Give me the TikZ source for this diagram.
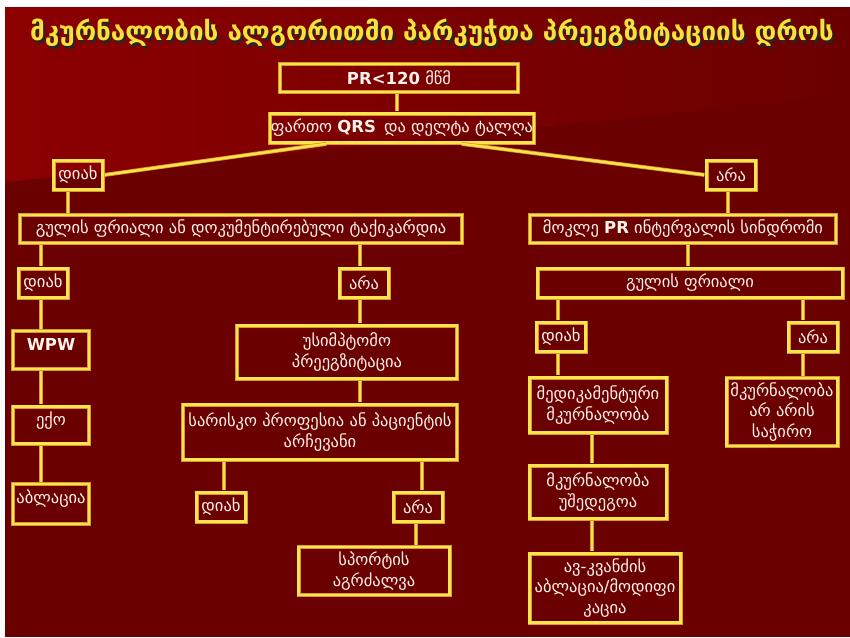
\documentclass[tikz,border=0pt]{standalone}
\usepackage{fontspec}
\setmainfont{DejaVu Sans}
\usetikzlibrary{positioning, calc}
\definecolor{wineDark}{HTML}{6B0000}
\definecolor{wineLight}{HTML}{8C0000}
\definecolor{boxGold}{HTML}{FFE54C}
\definecolor{boxGlow}{HTML}{D9992E}
\definecolor{labelWhite}{HTML}{FFF3EA}
\definecolor{titleGold}{HTML}{FFDF3A}

% vertical wire between two boxes at a given x
\newcommand{\vlink}[3]{%
  \coordinate (vx) at (#3,0);
  \draw[wire] (#1.south -| vx) -- (#2.north -| vx);}

\begin{document}
\begin{tikzpicture}[x=1pt, y=-1pt,
  stepbox/.style={
    draw=boxGold,
    line width=2.4pt,
    preaction={draw=boxGlow, line width=4pt},
    text=labelWhite,
    font=\fontsize{16.5}{20.5}\selectfont,
    align=center,
    inner sep=1pt
  },
  answer/.style={stepbox, minimum width=49pt, minimum height=29pt},
  wire/.style={
    draw=boxGold,
    line width=2.4pt,
    preaction={draw=boxGlow, line width=4pt},
    shorten <=1pt, shorten >=1pt
  }
]

% slide background
\fill[white] (0,0) rectangle (850,637);
\fill[wineDark] (5,7) rectangle (850,637);
\shade[left color=wineLight, right color=wineDark]
  (5,7) -- (850,7) -- (850,95) -- (5,182) -- cycle;

% heading
\node[font=\bfseries\fontsize{26}{30}\selectfont, text=black!85] (titleShade) at (434,36)
  {მკურნალობის ალგორითმი პარკუჭთა პრეეგზიტაციის დროს};
\node[font=\bfseries\fontsize{26}{30}\selectfont, text=titleGold] (title) at (432,33)
  {მკურნალობის ალგორითმი პარკუჭთა პრეეგზიტაციის დროს};

% top of the tree
\node[stepbox, minimum width=238pt, minimum height=28pt] (prShort) at (399,78)
  {\textbf{PR<120} მწმ};
\node[stepbox, minimum width=260pt, minimum height=29pt] (qrs) at (402,128)
  {ფართო \textbf{QRS}\, და დელტა ტალღა};
\node[answer] (yesA) at (78,175) {დიახ};
\node[answer] (noA) at (731,175) {არა};

\node[stepbox, minimum width=442pt, minimum height=28pt] (flutterDoc) at (241,229)
  {გულის ფრიალი ან დოკუმენტირებული ტაქიკარდია};
\node[stepbox, minimum width=306pt, minimum height=28pt] (shortPR) at (683,229)
  {მოკლე \textbf{PR} ინტერვალის სინდრომი};

% left branch
\node[answer] (yesB) at (43,283) {დიახ};
\node[answer] (noB) at (364,283) {არა};
\node[stepbox, minimum width=76pt, text height=18pt, text depth=18pt] (wpw) at (51,350)
  {\textbf{WPW}};
\node[stepbox, minimum width=76pt, text height=18pt, text depth=17pt] (echo) at (51,425)
  {ექო};
\node[stepbox, minimum width=76pt, text height=18pt, text depth=20pt] (ablation) at (51,504)
  {აბლაცია};

\node[stepbox, minimum width=220pt, minimum height=53pt] (asympt) at (347,352)
  {უსიმპტომო\\პრეეგზიტაცია};
\node[stepbox, minimum width=274pt, minimum height=55pt] (risk) at (320,432)
  {სარისკო პროფესია ან პაციენტის\\არჩევანი};
\node[answer] (yesC) at (221,507) {დიახ};
\node[answer] (noC) at (418,507) {არა};
\node[stepbox, minimum width=151pt, minimum height=48pt] (sport) at (374,571)
  {სპორტის\\აგრძალვა};

% right branch
\node[stepbox, minimum width=305pt, minimum height=29pt] (flutter) at (690,283)
  {გულის ფრიალი};
\node[answer] (yesD) at (561,337) {დიახ};
\node[answer] (noD) at (813,337) {არა};
\node[stepbox, minimum width=137pt, minimum height=55pt] (drugs) at (598,405)
  {მედიკამენტური\\მკურნალობა};
\node[stepbox, minimum width=111pt, minimum height=68pt] (noNeed) at (782,412)
  {მკურნალობა\\არ არის\\საჭირო};
\node[stepbox, minimum width=137pt, minimum height=53pt] (failed) at (598,492)
  {მკურნალობა\\უშედეგოა};
\node[stepbox, minimum width=151pt, minimum height=69pt] (avNode) at (605,588)
  {ავ-კვანძის\\აბლაცია/მოდიფი\\კაცია};

% wires
\vlink{prShort}{qrs}{397}
\draw[wire] ($(qrs.south west)!0.22!(qrs.south east)$) -- (yesA.east);
\draw[wire] ($(qrs.south west)!0.72!(qrs.south east)$) -- (noA.west);
\vlink{yesA}{flutterDoc}{68}
\vlink{noA}{shortPR}{728}
\vlink{flutterDoc}{yesB}{41}
\vlink{flutterDoc}{noB}{360}
\vlink{yesB}{wpw}{41}
\vlink{wpw}{echo}{41}
\vlink{echo}{ablation}{41}
\vlink{noB}{asympt}{360}
\vlink{asympt}{risk}{360}
\vlink{risk}{yesC}{224}
\vlink{risk}{noC}{422}
\vlink{noC}{sport}{416}
\vlink{shortPR}{flutter}{688}
\vlink{flutter}{yesD}{558}
\vlink{flutter}{noD}{803}
\vlink{yesD}{drugs}{558}
\vlink{noD}{noNeed}{803}
\vlink{drugs}{failed}{592}
\vlink{failed}{avNode}{592}

\end{tikzpicture}
\end{document}
